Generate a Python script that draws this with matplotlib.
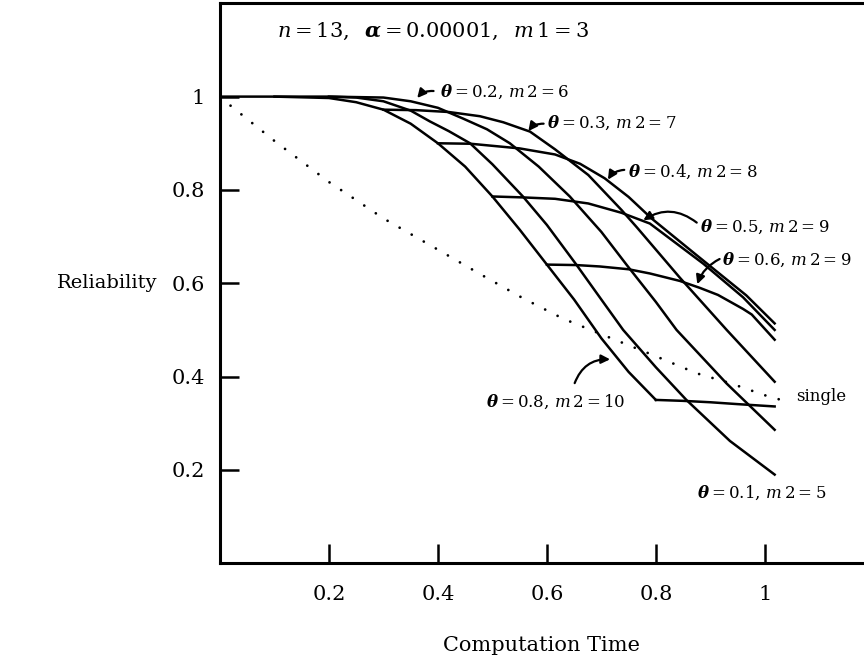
import matplotlib
matplotlib.use('Agg')
import matplotlib.pyplot as plt

# Serif text with bold-italic greek letters in the math parts
plt.rcParams['font.family'] = 'DejaVu Serif'
plt.rcParams['mathtext.fontset'] = 'custom'
plt.rcParams['mathtext.rm'] = 'DejaVu Serif'
plt.rcParams['mathtext.it'] = 'DejaVu Serif:italic'
plt.rcParams['mathtext.bf'] = 'DejaVu Serif:bold'
plt.rcParams['mathtext.bfit'] = 'DejaVu Serif:italic:bold'

# Base curve (m1 = 3), drawn up to the last switch time
base_t = [0.0, 0.1, 0.2, 0.25, 0.3, 0.35, 0.4, 0.45, 0.5, 0.55, 0.6, 0.65, 0.7, 0.75, 0.8]
base_r = [1.0, 1.0, 0.997, 0.988, 0.972, 0.942, 0.9, 0.85, 0.786, 0.715, 0.64, 0.565, 0.482, 0.41, 0.35]

# Curves after the switch at theta
t_01 = [0.1, 0.2, 0.25, 0.3, 0.35, 0.385, 0.42, 0.459, 0.5, 0.556, 0.6, 0.654, 0.7, 0.74, 0.8, 0.856, 0.936, 1.018]
r_01 = [1.0, 1.0, 0.998, 0.99, 0.97, 0.947, 0.926, 0.9, 0.855, 0.786, 0.725, 0.64, 0.565, 0.5, 0.42, 0.35, 0.262, 0.19]

t_02 = [0.2, 0.3, 0.35, 0.4, 0.446, 0.49, 0.532, 0.585, 0.642, 0.7, 0.746, 0.8, 0.838, 0.93, 1.018]
r_02 = [1.0, 0.998, 0.99, 0.976, 0.953, 0.93, 0.9, 0.85, 0.786, 0.71, 0.64, 0.56, 0.5, 0.385, 0.286]

t_03 = [0.3, 0.36, 0.42, 0.477, 0.52, 0.569, 0.615, 0.676, 0.737, 0.765, 0.844, 0.93, 1.018]
r_03 = [0.972, 0.971, 0.967, 0.958, 0.945, 0.925, 0.887, 0.832, 0.757, 0.72, 0.612, 0.5, 0.389]

t_04 = [0.4, 0.46, 0.55, 0.615, 0.661, 0.706, 0.75, 0.792, 0.875, 0.966, 1.018]
r_04 = [0.9, 0.899, 0.889, 0.876, 0.856, 0.825, 0.785, 0.739, 0.66, 0.574, 0.514]

t_05 = [0.5, 0.556, 0.615, 0.676, 0.737, 0.789, 0.887, 0.96, 1.018]
r_05 = [0.786, 0.784, 0.781, 0.771, 0.751, 0.728, 0.642, 0.57, 0.5]

t_06 = [0.6, 0.654, 0.697, 0.75, 0.789, 0.844, 0.881, 0.914, 0.96, 0.976, 1.018]
r_06 = [0.64, 0.639, 0.636, 0.63, 0.621, 0.605, 0.59, 0.575, 0.545, 0.533, 0.479]

t_08 = [0.8, 0.85, 0.9, 0.95, 1.018]
r_08 = [0.35, 0.348, 0.345, 0.341, 0.336]

# Single-processor reliability (dotted)
single_t = [0.0, 0.02, 0.1, 0.2, 0.24, 0.3, 0.4, 0.48, 0.556, 0.63, 0.71, 0.795, 0.875, 0.936, 1.015, 1.04]
single_r = [1.0, 0.98, 0.905, 0.817, 0.786, 0.739, 0.672, 0.618, 0.568, 0.524, 0.486, 0.446, 0.407, 0.386, 0.354, 0.348]

x_ticks = [0.2, 0.4, 0.6, 0.8, 1.0]
x_tick_labels = ['0.2', '0.4', '0.6', '0.8', '1']
y_ticks = [0.2, 0.4, 0.6, 0.8, 1.0]
y_tick_labels = ['0.2', '0.4', '0.6', '0.8', '1']

# (label, text position, arrow tail, arrow tip, arc rad)
curve_labels = [
    (r'$\mathbfit{\theta}=0.2,\,m\,2=6$', (0.404, 1.01), (0.392, 1.012), (0.362, 0.997), 0.25),
    (r'$\mathbfit{\theta}=0.3,\,m\,2=7$', (0.600, 0.943), (0.594, 0.942), (0.566, 0.926), 0.25),
    (r'$\mathbfit{\theta}=0.4,\,m\,2=8$', (0.749, 0.839), (0.742, 0.843), (0.712, 0.822), 0.25),
    (r'$\mathbfit{\theta}=0.5,\,m\,2=9$', (0.881, 0.721), (0.875, 0.730), (0.777, 0.735), 0.35),
    (r'$\mathbfit{\theta}=0.6,\,m\,2=9$', (0.921, 0.650), (0.917, 0.652), (0.876, 0.598), 0.2),
    (r'$\mathbfit{\theta}=0.8,\,m\,2=10$', (0.489, 0.346), (0.651, 0.386), (0.716, 0.437), -0.35),
    (r'$\mathbfit{\theta}=0.1,\,m\,2=5$', (0.875, 0.150), None, None, 0.0),
]

fig = plt.figure(figsize=(8.64, 6.57), dpi=100)
ax = fig.add_axes([0.2546, 0.1427, 0.7454, 0.8523])

lw = 1.8
ax.plot(base_t, base_r, color='black', linewidth=lw)
for t, r in [(t_01, r_01), (t_02, r_02), (t_03, r_03), (t_04, r_04),
             (t_05, r_05), (t_06, r_06), (t_08, r_08)]:
    ax.plot(t, r, color='black', linewidth=lw)

ax.plot(single_t, single_r, color='black', linewidth=2.0,
        linestyle=(0, (0.01, 5)), dash_capstyle='round')
ax.text(1.058, 0.357, 'single', fontsize=12, ha='left', va='center')

for label, pos, tail, tip, rad in curve_labels:
    ax.text(pos[0], pos[1], label, fontsize=12, ha='left', va='center')
    if tip is not None:
        ax.annotate('', xy=tip, xytext=tail,
                    arrowprops=dict(arrowstyle='-|>', color='black', lw=1.6,
                                    mutation_scale=13, shrinkA=0, shrinkB=0,
                                    connectionstyle='arc3,rad=%.2f' % rad))

ax.text(0.105, 1.14, r'$n=13,\;\;\mathbfit{\alpha}=0.00001,\;\;m\,1=3$',
        fontsize=15, ha='left', va='center')

ax.set_xlim(0, 1.182)
ax.set_ylim(0, 1.2)
ax.set_xticks(x_ticks)
ax.set_xticklabels(x_tick_labels)
ax.set_yticks(y_ticks)
ax.set_yticklabels(y_tick_labels)
ax.tick_params(direction='in', length=14, width=1.8, labelsize=15)
ax.tick_params(axis='x', pad=16)
ax.tick_params(axis='y', pad=11)

for side in ['left', 'top', 'bottom']:
    ax.spines[side].set_linewidth(2.2)
ax.spines['right'].set_visible(False)

ax.set_xlabel('Computation Time', fontsize=15)
ax.xaxis.set_label_coords(0.5, -0.146)
ax.xaxis.label.set_va('center')
ax.set_ylabel('Reliability', fontsize=14, rotation=0, ha='center', va='center')
ax.yaxis.set_label_coords(-0.175, 0.5)

plt.savefig('out.png', dpi=100)
